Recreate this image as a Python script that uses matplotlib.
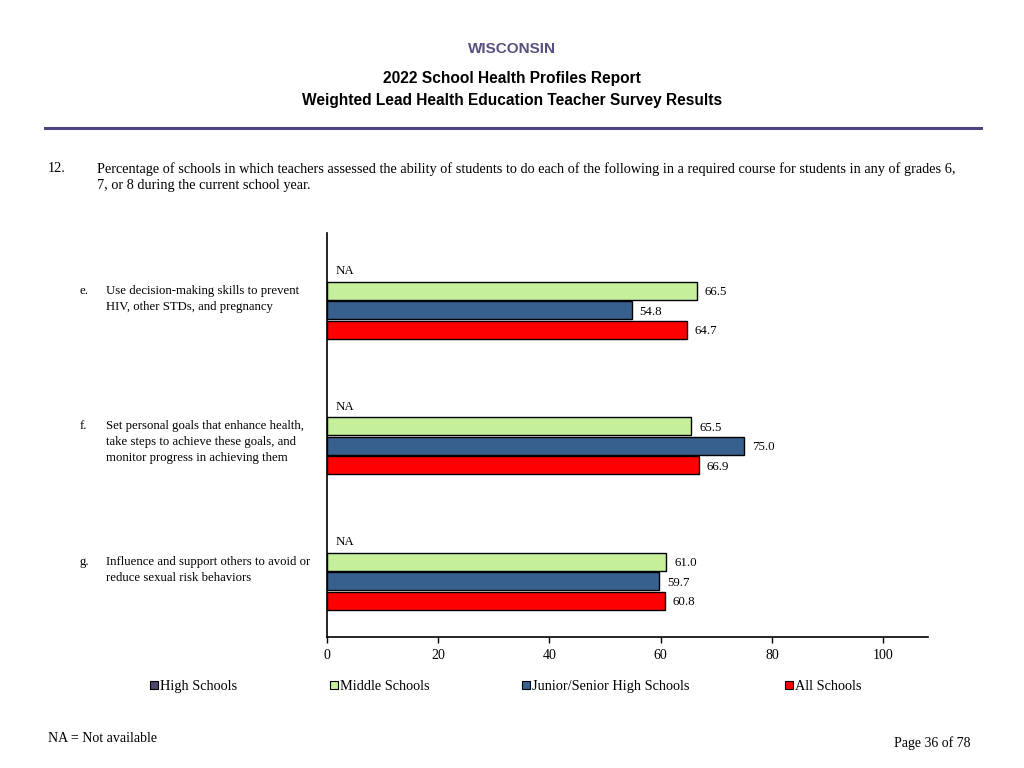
import matplotlib
matplotlib.use("Agg")
import matplotlib.pyplot as plt
from matplotlib.transforms import blended_transform_factory
from matplotlib.patches import Rectangle

# data
letters = ["e.", "f.", "g."]
items = [
    "Use decision-making skills to prevent\nHIV, other STDs, and pregnancy",
    "Set personal goals that enhance health,\ntake steps to achieve these goals, and\nmonitor progress in achieving them",
    "Influence and support others to avoid or\nreduce sexual risk behaviors",
]
series = ["High Schools", "Middle Schools", "Junior/Senior High Schools", "All Schools"]
high = [None, None, None]          # NA
middle = [66.5, 65.5, 61.0]
junior = [54.8, 75.0, 59.7]
all_schools = [64.7, 66.9, 60.8]
colors = ["#4e4a70", "#c6ef9c", "#38608f", "#ff0000"]

plt.rcParams["font.family"] = ["Liberation Serif", "DejaVu Serif"]
sans = ["Liberation Sans", "DejaVu Sans"]

fig = plt.figure(figsize=(10.24, 7.68), dpi=100)
ax = fig.add_axes([0.3193, 0.1706, 0.5867, 0.526])

step = 0.1447
height = 0.133
values = [high, middle, junior, all_schools]
for k, vals in enumerate(values):
    off = (k - 1.5) * step
    for i, v in enumerate(vals):
        y = i + off
        if v is None:
            ax.text(1.5, y, "NA", va="center", ha="left", fontsize=9.3)
            continue
        ax.barh(y, v, height=height, color=colors[k], edgecolor="black", linewidth=1.0)
        ax.text(v + 1.4, y + 0.01, f"{v:.1f}", va="center", ha="left", fontsize=9.3)

ax.set_xlim(0, 108)
ax.set_ylim(2.483, -0.498)
ax.set_xticks([0, 20, 40, 60, 80, 100])
ax.tick_params(axis="x", length=4, width=1, labelsize=10, pad=5)
ax.set_yticks([])
ax.spines["top"].set_visible(False)
ax.spines["right"].set_visible(False)
ax.spines["left"].set_linewidth(1.2)
ax.spines["bottom"].set_linewidth(1.2)

# category labels at the left
tr = blended_transform_factory(fig.transFigure, ax.transData)
for i, (let, txt) in enumerate(zip(letters, items)):
    ax.text(80 / 1024, i - 0.115, let, transform=tr, va="top", ha="left", fontsize=9.2)
    ax.text(106 / 1024, i - 0.115, txt, transform=tr, va="top", ha="left",
            fontsize=9.2, linespacing=1.42)

# header
fig.text(0.5, 1 - 49 / 768, "WISCONSIN", ha="center", va="center", fontsize=11,
         fontweight="bold", color="#5a4f80", family=sans)
fig.text(0.5, 1 - 78 / 768, "2022 School Health Profiles Report", ha="center", va="center",
         fontsize=11.2, fontweight="bold", family=sans)
fig.text(0.5, 1 - 100 / 768, "Weighted Lead Health Education Teacher Survey Results",
         ha="center", va="center", fontsize=11.2, fontweight="bold", family=sans)
fig.add_artist(plt.Line2D([45 / 1024, 981 / 1024], [1 - 128 / 768, 1 - 128 / 768],
                          color="#4b4580", linewidth=2.2, transform=fig.transFigure))

# question text
fig.text(48 / 1024, 1 - 169 / 768, "12.", ha="left", va="center", fontsize=10.25)
fig.text(97 / 1024, 1 - 169 / 768,
         "Percentage of schools in which teachers assessed the ability of students to do each of the following in a required course for students in any of grades 6,",
         ha="left", va="center", fontsize=10.25)
fig.text(97 / 1024, 1 - 186 / 768, "7, or 8 during the current school year.",
         ha="left", va="center", fontsize=10.25)

# legend drawn as separate entries spread across the page
leg_x = [150, 330, 522, 785]
for name, c, x in zip(series, colors, leg_x):
    fig.add_artist(Rectangle((x / 1024, 1 - 689 / 768), 8 / 1024, 8 / 768,
                             facecolor=c, edgecolor="black", linewidth=0.8,
                             transform=fig.transFigure))
    fig.text((x + 10) / 1024, 1 - 690 / 768, name, ha="left", va="baseline", fontsize=10.25)

# footer
fig.text(48 / 1024, 1 - 738 / 768, "NA = Not available", ha="left", va="center", fontsize=10)
fig.text(971 / 1024, 1 - 743 / 768, "Page 36 of 78", ha="right", va="center", fontsize=10)

fig.savefig("out.png", dpi=100)
